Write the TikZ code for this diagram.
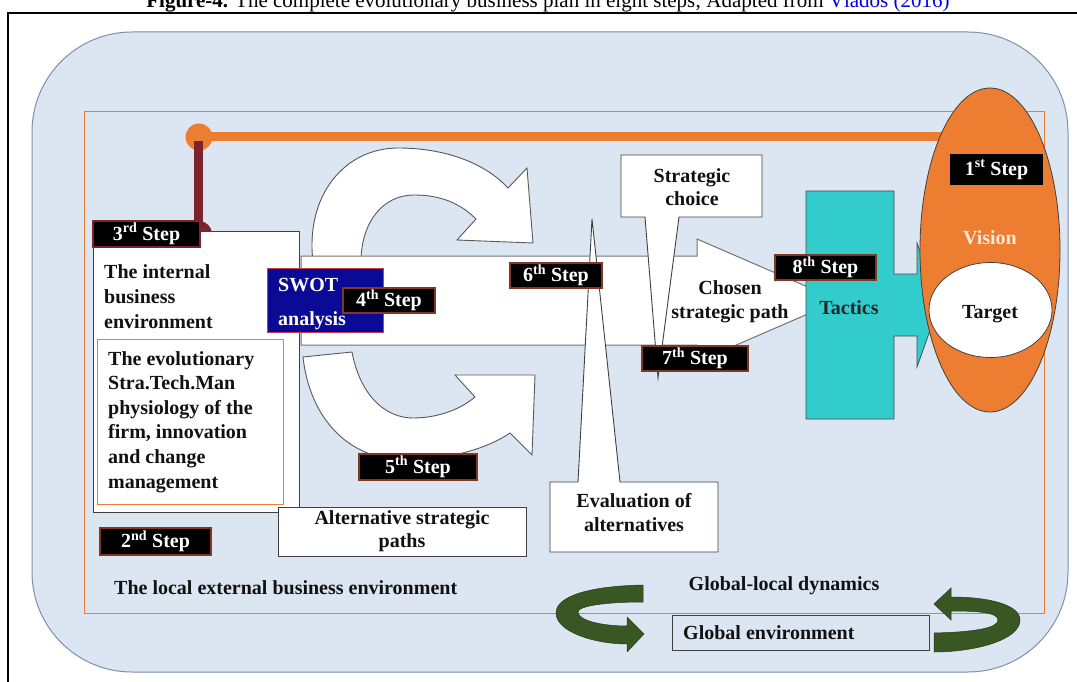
\documentclass[tikz,border=0pt]{standalone}
\usepackage{fontspec}
\setmainfont{Liberation Serif}
\usetikzlibrary{shapes.geometric}
\definecolor{bgblue}{RGB}{220,230,242}
\definecolor{bgedge}{RGB}{125,145,170}
\definecolor{orng}{RGB}{237,125,49}
\definecolor{maroonb}{RGB}{125,35,45}
\definecolor{lbledge}{RGB}{130,55,35}
\definecolor{tealb}{RGB}{51,204,204}
\definecolor{navyb}{RGB}{10,10,150}
\definecolor{swotedge}{RGB}{200,60,80}
\definecolor{ribbon}{RGB}{56,87,35}
\definecolor{txt}{RGB}{17,17,17}
\definecolor{visiontxt}{RGB}{253,233,217}
\definecolor{linkblue}{RGB}{0,0,230}
\tikzset{
  txtb/.style={font=\fontsize{20}{24.6}\selectfont\bfseries, text=txt, inner sep=0pt},
  steplbl/.style={draw=lbledge, line width=1.6pt, fill=black, text=white,
    font=\fontsize{20}{24}\selectfont\bfseries, inner sep=0pt},
  wbox/.style={draw=black!75, line width=1pt, fill=white, inner sep=0pt},
  whitearrow/.style={draw=black!65, line width=0.9pt, fill=white},
  ribbonarrow/.style={fill=ribbon, draw=ribbon!70!black, line width=0.5pt},
}
\begin{document}
\begin{tikzpicture}[x=1pt,y=-1pt]
\useasboundingbox (0,0) rectangle (1077,682);
\fill[white] (0,0) rectangle (1077,682);
% caption
\node[anchor=base, font=\fontsize{21}{24}\selectfont, text=black, inner sep=0pt] (caption) at (548,8)
  {\textbf{Figure-4.} The complete evolutionary business plan in eight steps; Adapted from \textcolor{linkblue}{Vlados (2016)}};
% outer frame
\draw[black, line width=2pt] (8,13) rectangle (1100,720);
% rounded background
\draw[fill=bgblue, draw=bgedge, line width=1pt, rounded corners=100pt] (32,32) rectangle (1068,672);
% orange frame
\draw[orng, line width=0.9pt] (84,111) rectangle (1044,613);
% orange line with dot, maroon bar
\draw[orng, line width=9pt] (199,137) -- (960,137);
\fill[orng] (199,137) circle[radius=13.5pt];
\draw[maroonb, line width=9pt] (198,141) -- (198,234);
\fill[maroonb] (199,234) circle[radius=13pt];
% top curved arrow
\draw[whitearrow] (313,262) .. controls (305,195) and (345,148) .. (398,148)
  .. controls (445,148) and (485,163) .. (508,188) -- (527,168) -- (533,243) -- (457,240) -- (476,219)
  .. controls (460,203) and (440,195) .. (414,195) .. controls (383,195) and (361,222) .. (361,262) -- cycle;
% bottom curved arrow
\draw[whitearrow] (303,357) -- (352,352) .. controls (360,395) and (385,418) .. (413,418)
  .. controls (440,418) and (462,408) .. (475,397) -- (455,375) -- (535,375) -- (532,455) -- (510,433)
  .. controls (485,450) and (445,460) .. (405,460) .. controls (350,460) and (310,420) .. (303,357) -- cycle;
% internal business environment box
\node[wbox, minimum width=206pt, minimum height=281pt, anchor=north west] (internal) at (93,231) {};
\node[draw=orng, line width=0.8pt, fill=white, minimum width=186pt, minimum height=165pt, anchor=north west, inner sep=0pt] (evobox) at (97,339) {};
\node[txtb, font=\fontsize{20}{25}\selectfont\bfseries, anchor=north west, align=left] (inttxt) at (104,264) {The internal\\business\\environment};
\node[txtb, anchor=north west, align=left] (evotxt) at (108,351) {The evolutionary\\Stra.Tech.Man\\physiology of the\\firm, innovation\\and change\\management};
% big horizontal arrow
\draw[draw=black!55, line width=1pt, fill=white] (301,256) -- (697,256) -- (697,239) -- (839,300.5) -- (697,362) -- (697,345) -- (301,345) -- cycle;
\node[txtb, anchor=north, align=center] (chosen) at (730,280) {Chosen\\strategic path};
% strategic choice callout
\draw[whitearrow, draw=black!75] (621,155) -- (762,155) -- (762,217) -- (679,217) -- (658,378) -- (645,217) -- (621,217) -- cycle;
\node[txtb, font=\fontsize{20}{23.5}\selectfont\bfseries, anchor=north, align=center] (stratchoice) at (692,168) {Strategic\\choice};
% evaluation callout
\draw[whitearrow, draw=black!75] (550,482) -- (578,482) -- (592,219) -- (620,482) -- (718,482) -- (718,552) -- (550,552) -- cycle;
\node[txtb, font=\fontsize{20}{24}\selectfont\bfseries, anchor=north, align=center] (evaltxt) at (634,493) {Evaluation of\\alternatives};
% alternative strategic paths box
\node[wbox, minimum width=248pt, minimum height=49pt, anchor=north west] (altbox) at (278,507) {};
\node[txtb, font=\fontsize{20}{23.5}\selectfont\bfseries, anchor=north, align=center] (alttxt) at (402,510) {Alternative strategic\\paths};
% SWOT box
\node[draw=swotedge, line width=1pt, fill=navyb, minimum width=116pt, minimum height=64pt, anchor=north west, inner sep=0pt] (swot) at (267,268) {};
\node[anchor=north west, font=\fontsize{20}{34}\selectfont\bfseries, text=white, align=left, inner sep=0pt] (swottxt) at (278,278) {SWOT\\analysis};
% tactics
\draw[fill=tealb, draw=black!70, line width=0.8pt] (806,191) -- (894,191) -- (894,274) -- (917,274) -- (917,243) -- (939,305) -- (917,367) -- (917,336) -- (894,336) -- (894,419) -- (806,419) -- cycle;
\node[txtb, text=black!85, anchor=base] (tactics) at (849,314) {Tactics};
% vision and target
\node[ellipse, draw=black!75, line width=0.8pt, fill=orng, minimum width=140pt, minimum height=324pt, inner sep=0pt] (vision) at (990,250) {};
\node[txtb, text=visiontxt, anchor=base] (visiontxt) at (990,244) {Vision};
\node[ellipse, draw=black!75, line width=0.8pt, fill=white, minimum width=123pt, minimum height=95pt, inner sep=0pt] (target) at (990.5,310) {};
\node[txtb, anchor=base] (targettxt) at (990,318) {Target};
% step labels
\node[steplbl, draw=maroonb, minimum width=107pt, minimum height=26pt] (s3) at (146.5,234) {3\textsuperscript{rd} Step};
\node[steplbl, minimum width=92pt, minimum height=25pt] (s4) at (389,300.5) {4\textsuperscript{th} Step};
\node[steplbl, minimum width=118pt, minimum height=26pt] (s5) at (418,467) {5\textsuperscript{th} Step};
\node[steplbl, minimum width=92pt, minimum height=25pt] (s6) at (556,275.5) {6\textsuperscript{th} Step};
\node[steplbl, minimum width=106pt, minimum height=25pt] (s7) at (695,358.5) {7\textsuperscript{th} Step};
\node[steplbl, minimum width=101pt, minimum height=25pt] (s8) at (825.5,267.5) {8\textsuperscript{th} Step};
\node[steplbl, draw=black, minimum width=91pt, minimum height=29pt] (s1) at (996.5,169.5) {1\textsuperscript{st} Step};
\node[steplbl, minimum width=111pt, minimum height=27pt] (s2) at (155.5,541.5) {2\textsuperscript{nd} Step};
% bottom texts
\node[txtb, anchor=base west] (localtxt) at (114,594) {The local external business environment};
\node[txtb, anchor=base] (dyntxt) at (784,590) {Global-local dynamics};
\node[draw=black!75, line width=1pt, minimum width=257pt, minimum height=35pt, anchor=north west, inner sep=0pt] (globbox) at (672,615) {};
\node[txtb, anchor=base west] (globtxt) at (683,639) {Global environment};
% green ribbon arrows
\draw[ribbonarrow] (643,585) .. controls (590,586) and (556,596) .. (556,613)
  .. controls (556,632) and (595,644) .. (627,644) -- (627,652) -- (644,634) -- (627,617) -- (627,626)
  .. controls (600,626) and (578,620) .. (578,612) .. controls (578,606) and (605,602) .. (643,602) -- cycle;
\draw[ribbonarrow] (934,633) .. controls (975,632) and (998,628) .. (998,620)
  .. controls (998,612) and (975,611) .. (951,611) -- (951,620) -- (934,604) -- (951,588) -- (951,597)
  .. controls (990,597) and (1020,605) .. (1020,620) .. controls (1020,640) and (975,652) .. (934,652) -- cycle;
\end{tikzpicture}
\end{document}
